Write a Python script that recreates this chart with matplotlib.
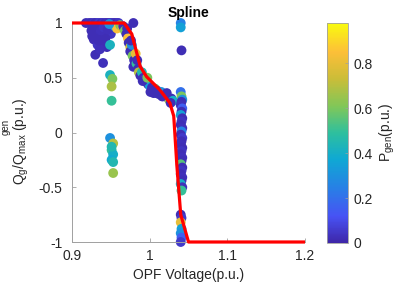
import numpy as np
import matplotlib
matplotlib.use("Agg")
import matplotlib.pyplot as plt
from matplotlib.colors import LinearSegmentedColormap

plt.rcParams['font.family'] = ['Liberation Sans', 'DejaVu Sans']
plt.rcParams['mathtext.fontset'] = 'custom'
plt.rcParams['mathtext.rm'] = 'Liberation Sans'
plt.rcParams['mathtext.it'] = 'Liberation Sans:italic'

# ---------------- data ----------------
# spline curve
spline_v = [0.9, 0.967, 0.977, 0.988, 0.996, 1.013, 1.026, 1.031, 1.035, 1.040, 1.050, 1.2]
spline_q = [1.0, 1.0, 0.90, 0.60, 0.51, 0.39, 0.27, 0.15, -0.30, -0.75, -1.0, -1.0]

# scatter: top cluster near Q=1
top_v = [0.918, 0.922, 0.925, 0.928, 0.930, 0.933, 0.935, 0.938, 0.940, 0.943, 0.945, 0.948,
         0.950, 0.953, 0.955, 0.958, 0.960, 0.925, 0.930, 0.935,
         0.928, 0.933, 0.938, 0.942, 0.940, 0.930, 0.940, 0.945, 0.950, 0.927, 0.936, 0.943,
         0.932, 0.937, 0.926, 0.941, 0.934, 0.946,
         0.955, 0.958, 0.962, 0.965, 0.948, 0.949, 0.949, 0.952, 0.951, 0.951, 0.979]
top_q = [1.00, 1.00, 1.00, 1.00, 1.00, 1.00, 1.00, 1.00, 1.00, 1.00, 1.00, 1.00,
         1.00, 1.00, 1.00, 1.00, 1.00, 0.93, 0.90, 0.95,
         0.85, 0.80, 0.88, 0.92, 0.83, 0.71, 0.635, 0.78, 0.90, 0.96, 0.76, 0.86,
         0.97, 0.93, 0.88, 0.96, 0.84, 0.94,
         0.97, 0.95, 0.98, 0.96, 0.99, 0.80, 0.525, 0.49, 0.42, 0.29, 1.00]
top_p = [0.02, 0.03, 0.02, 0.04, 0.02, 0.03, 0.05, 0.02, 0.04, 0.02, 0.03, 0.02,
         0.04, 0.02, 0.03, 0.02, 0.04, 0.02, 0.03, 0.02,
         0.02, 0.04, 0.02, 0.03, 0.02, 0.02, 0.03, 0.02, 0.04, 0.02, 0.03, 0.02,
         0.02, 0.03, 0.02, 0.04, 0.02, 0.03,
         0.35, 0.85, 0.60, 0.75, 0.30, 0.42, 0.42, 0.60, 0.68, 0.50, 0.02]

# lower cluster near V=0.95
low_v = [0.949, 0.953, 0.951, 0.953, 0.951, 0.953, 0.953, 0.951]
low_q = [-0.05, -0.10, -0.16, -0.20, -0.25, -0.27, -0.37, -0.13]
low_p = [0.30, 0.70, 0.50, 0.40, 0.38, 0.45, 0.65, 0.45]

# descending band along the spline
band_v = [0.966, 0.968, 0.970, 0.972, 0.973, 0.975, 0.975, 0.977, 0.978, 0.979, 0.980, 0.982,
          0.983, 0.985, 0.986, 0.988, 0.990, 0.992, 0.994, 0.996, 0.998, 1.000, 1.001, 1.003,
          1.005, 1.007, 1.010, 1.012, 1.015, 1.017, 1.020, 1.023, 1.025, 1.028, 1.030,
          0.971, 0.976, 0.984, 0.991, 0.997, 1.004, 1.009, 1.016, 1.022, 1.027]
band_q = [0.97, 0.93, 0.90, 0.86, 0.82, 0.78, 0.74, 0.80, 0.70, 0.60, 0.66, 0.72,
          0.63, 0.58, 0.55, 0.52, 0.55, 0.50, 0.48, 0.46, 0.44, 0.43, 0.37, 0.41,
          0.36, 0.40, 0.38, 0.35, 0.37, 0.33, 0.34, 0.32, 0.30, 0.31, 0.29,
          0.95, 0.84, 0.66, 0.47, 0.50, 0.39, 0.36, 0.33, 0.36, 0.27]
band_p = [0.02, 0.60, 0.02, 0.85, 0.02, 0.75, 0.02, 0.30, 0.60, 0.02, 0.02, 0.80,
          0.50, 0.02, 0.70, 0.02, 0.45, 0.02, 0.65, 0.02, 0.02, 0.35, 0.02, 0.02,
          0.02, 0.55, 0.02, 0.02, 0.30, 0.02, 0.85, 0.02, 0.65, 0.02, 0.40,
          0.02, 0.02, 0.02, 0.02, 0.60, 0.02, 0.02, 0.02, 0.02, 0.02]

# vertical column near V=1.04
col_v = [1.040, 1.040, 1.041, 1.040, 1.041, 1.042,
         1.041, 1.040, 1.042, 1.041, 1.040, 1.042, 1.041, 1.040, 1.042, 1.041,
         1.040, 1.042, 1.041, 1.040, 1.042, 1.041, 1.040, 1.042, 1.041, 1.040,
         1.042, 1.041, 1.040, 1.042, 1.041, 1.040, 1.042, 1.041,
         1.040, 1.041, 1.040, 1.041, 1.040, 1.041, 1.040]
col_q = [1.00, 0.96, 0.75, 0.37, 0.33, 0.30,
         0.28, 0.25, 0.22, 0.19, 0.16, 0.13, 0.10, 0.07, 0.04, 0.01,
         -0.02, -0.05, -0.08, -0.11, -0.14, -0.17, -0.20, -0.23, -0.26, -0.29,
         -0.32, -0.35, -0.38, -0.41, -0.44, -0.47, -0.50, -0.53,
         -0.75, -0.78, -0.82, -0.88, -0.92, -0.96, -1.00]
col_p = [0.25, 0.35, 0.02, 0.20, 0.60, 0.30,
         0.02, 0.03, 0.15, 0.02, 0.35, 0.02, 0.04, 0.02, 0.03, 0.25,
         0.02, 0.05, 0.02, 0.03, 0.02, 0.04, 0.02, 0.03, 0.02, 0.55,
         0.02, 0.04, 0.02, 0.03, 0.02, 0.40, 0.03, 0.50,
         0.02, 0.05, 0.80, 0.35, 0.30, 0.15, 0.05]

volt = top_v + low_v + band_v + col_v
qratio = top_q + low_q + band_q + col_q
pgen = top_p + low_p + band_p + col_p

x_ticks = [0.9, 1.0, 1.1, 1.2]
x_ticklabels = ['0.9', '1', '1.1', '1.2']
y_ticks = [-1, -0.5, 0, 0.5, 1]
y_ticklabels = ['-1', '-0.5', '0', '0.5', '1']
cb_ticks = [0, 0.2, 0.4, 0.6, 0.8]
cb_ticklabels = ['0', '0.2', '0.4', '0.6', '0.8']

# parula-like colormap
parula_anchors = [
    (0.00, (0.2422, 0.1504, 0.6603)),
    (0.12, (0.2810, 0.3228, 0.9579)),
    (0.25, (0.1540, 0.5020, 0.9000)),
    (0.38, (0.0600, 0.6600, 0.8300)),
    (0.50, (0.1800, 0.7500, 0.6200)),
    (0.62, (0.5000, 0.7800, 0.3500)),
    (0.75, (0.8000, 0.7400, 0.2200)),
    (0.87, (0.9900, 0.7500, 0.2200)),
    (1.00, (0.9763, 0.9831, 0.0538)),
]
parula = LinearSegmentedColormap.from_list('parula', parula_anchors)

# ---------------- figure ----------------
fig = plt.figure(figsize=(4.03, 2.87), dpi=100)
ax = fig.add_axes([72/403, 1-242/287, 233/403, 219/287])
cax = fig.add_axes([327/403, 1-243/287, 21/403, 220/287])

sc = ax.scatter(volt, qratio, c=pgen, cmap=parula, vmin=0, vmax=0.98,
                s=50, edgecolors='none', zorder=2, clip_on=False)
ax.plot(spline_v, spline_q, color=(1, 0, 0), lw=2.3, zorder=3, solid_capstyle='butt',
        clip_on=False)

ax.set_xlim(0.9, 1.2)
ax.set_ylim(-1, 1)
ax.set_xticks(x_ticks)
ax.set_xticklabels(x_ticklabels)
ax.set_yticks(y_ticks)
ax.set_yticklabels(y_ticklabels)
for s in ['top', 'right']:
    ax.spines[s].set_visible(False)
for s in ['left', 'bottom']:
    ax.spines[s].set_color('#a0a0a0')
    ax.spines[s].set_linewidth(0.7)
ax.tick_params(direction='in', length=3, width=0.6, color='#a0a0a0',
               labelsize=10, labelcolor='#262626')
ax.tick_params(axis='y', pad=7)
ax.tick_params(axis='x', pad=5)
ax.set_title('Spline', fontsize=10, fontweight='bold', pad=4)
ax.set_xlabel('OPF Voltage(p.u.)', fontsize=10, color='#262626', labelpad=4)

fig.text(21/403, 1-141/287, r'$\mathregular{Q_g/Q_{max}}$ (p.u.)', rotation=90,
         ha='center', va='center', fontsize=10, color='#262626')
fig.text(6/403, 1-127/287, 'gen', rotation=90, ha='center', va='center',
         fontsize=7, color='#262626')

cb = fig.colorbar(sc, cax=cax)
cb.set_ticks(cb_ticks)
cb.set_ticklabels(cb_ticklabels)
cb.outline.set_edgecolor('#a0a0a0')
cb.outline.set_linewidth(0.6)
cax.tick_params(direction='in', length=2, width=0.5, color='#a0a0a0',
                labelsize=10, labelcolor='#262626', pad=4)
fig.text(387/403, 1-132/287, r'$\mathregular{P_{gen}}$(p.u.)', rotation=90,
         ha='center', va='center', fontsize=10, color='#262626')

fig.savefig('out.png', dpi=100)
